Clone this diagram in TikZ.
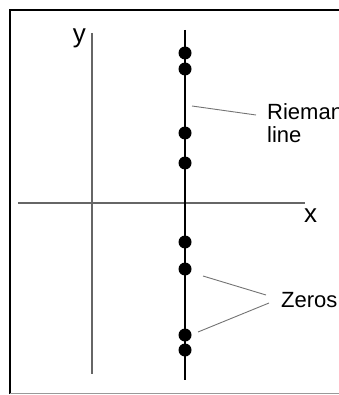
\documentclass[tikz,border=0pt]{standalone}
\usepackage{fontspec}
\setmainfont{Liberation Sans}
\usetikzlibrary{positioning}

\begin{document}
\begin{tikzpicture}[x=1pt, y=-1pt, zero/.style={circle, fill, inner sep=0pt, minimum size=13pt}, lbl/.style={inner sep=0pt, font=\fontsize{22}{24}\selectfont}, axlbl/.style={inner sep=0pt, font=\fontsize{26}{28}\selectfont}, axis/.style={line width=1.3pt, black!60}, leader/.style={line width=0.9pt, black!55}]
\useasboundingbox (0,0) rectangle (338,395);
% frame
\draw[line width=2pt] (345,10) -- (10,10) -- (10,394);
\draw[line width=0.8pt, black!40] (10,393) -- (345,393);
% axes
\coordinate (ytop) at (92,33);
\coordinate (ybot) at (92,374);
\coordinate (xleft) at (18,203);
\coordinate (xright) at (305,203);
\draw[axis] (ytop) -- (ybot);
\draw[axis] (xleft) -- (xright);
\node[axlbl, anchor=base east] (ylab) at (86,43) {y};
\node[axlbl, anchor=base west] (xlab) at (304,222) {x};
% critical line and zeros
\coordinate (ctop) at (185,30);
\coordinate (cbot) at (185,380);
\draw[line width=1.8pt] (ctop) -- (cbot);
\foreach \yy [count=\i] in {53,69,133,163,242,269,335,350}
  \node[zero] (z\i) at (185,\yy) {};
% labels
\node[lbl, anchor=base west] (riem) at (267,120) {Riemann};
\node[lbl, anchor=base west] (riemline) at ([yshift=-23pt]riem.base west) {line};
\node[lbl, anchor=base west] (zeros) at (281,307) {Zeros};
\coordinate (r1) at (192,106);
\coordinate (r2) at (256,115);
\draw[leader] (r1) -- (r2);
\coordinate (za) at (203,276);
\coordinate (zb) at (198,332);
\coordinate (zc) at (266,295);
\coordinate (zd) at (269,303);
\draw[leader] (za) -- (zc);
\draw[leader] (zb) -- (zd);
\end{tikzpicture}
\end{document}
